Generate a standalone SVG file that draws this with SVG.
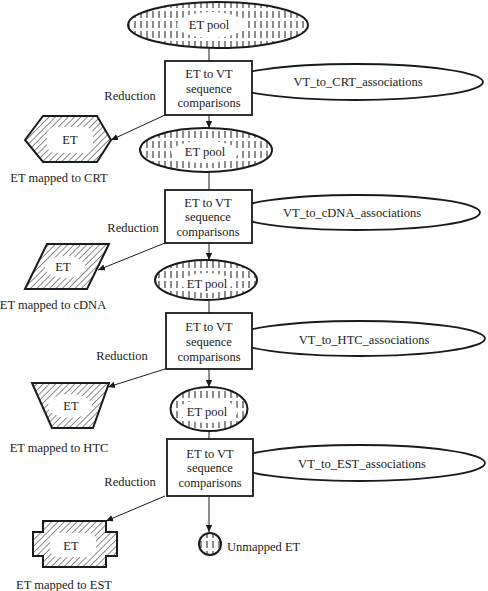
<svg xmlns="http://www.w3.org/2000/svg" width="488" height="591" viewBox="0 0 488 591">
<style>
text{font-family:"Times New Roman","Liberation Serif","DejaVu Serif","Noto Serif",serif;font-size:12.5px;fill:#1a1a1a}
.c{text-anchor:middle}
.box{fill:#fff;stroke:#1a1a1a;stroke-width:1.8}
.pool{fill:url(#vdash);stroke:#1a1a1a;stroke-width:2}
.assoc{fill:#fff;stroke:#1a1a1a;stroke-width:1.8}
.shape{fill:url(#diag);stroke:#1a1a1a;stroke-width:2}
.clear{fill:#fff;stroke:none}
.edge{fill:none;stroke:#1a1a1a;stroke-width:1}
</style>
<defs>
<pattern id="vdash" width="6" height="10" patternUnits="userSpaceOnUse">
<rect width="6" height="10" fill="#fff"/>
<line x1="3" y1="1" x2="3" y2="8" stroke="#1a1a1a" stroke-width="1"/>
</pattern>
<pattern id="diag" width="4.5" height="4.5" patternUnits="userSpaceOnUse" patternTransform="rotate(45)">
<rect width="4.5" height="4.5" fill="#fff"/>
<line x1="0" y1="0" x2="0" y2="4.5" stroke="#1a1a1a" stroke-width="1"/>
</pattern>
<marker id="arr" markerWidth="8" markerHeight="8" refX="7" refY="4" orient="auto" markerUnits="userSpaceOnUse">
<path d="M0,0.8 L7,4 L0,7.2 Z" fill="#1a1a1a"/>
</marker>
</defs>

<g id="connectors">
<line class="edge" x1="209" y1="48" x2="209" y2="61"/>
<line class="edge" x1="209" y1="115" x2="209" y2="128" marker-end="url(#arr)"/>
<line class="edge" x1="209" y1="172" x2="209" y2="190"/>
<line class="edge" x1="209" y1="243" x2="209" y2="260" marker-end="url(#arr)"/>
<line class="edge" x1="209" y1="300" x2="209" y2="313"/>
<line class="edge" x1="209" y1="369" x2="209" y2="387" marker-end="url(#arr)"/>
<line class="edge" x1="209" y1="431" x2="209" y2="439"/>
<line class="edge" x1="209" y1="496" x2="209" y2="532" marker-end="url(#arr)"/>
<line class="edge" x1="165" y1="115" x2="111" y2="140" marker-end="url(#arr)"/>
<line class="edge" x1="165" y1="243" x2="98" y2="270" marker-end="url(#arr)"/>
<line class="edge" x1="165" y1="369" x2="108" y2="387" marker-end="url(#arr)"/>
<line class="edge" x1="165" y1="496" x2="106" y2="521" marker-end="url(#arr)"/>
<text class="c" x="130" y="100" font-family="Liberation Serif">Reduction</text>
<text class="c" x="133" y="232">Reduction</text>
<text class="c" x="122" y="360">Reduction</text>
<text class="c" x="130" y="486">Reduction</text>
</g>

<g id="pool1">
<ellipse class="pool" cx="218" cy="25" rx="90" ry="23"/>
<ellipse class="clear" cx="211" cy="25" rx="34" ry="13"/>
<text class="c" x="209" y="29">ET pool</text>
</g>

<g id="assoc1">
<ellipse class="assoc" cx="355" cy="82" rx="128" ry="18"/>
<text class="c" x="358" y="86">VT_to_CRT_associations</text>
</g>
<g id="comp1">
<rect class="box" x="165" y="61" width="87" height="54"/>
<text class="c" x="209" y="78">ET to VT</text>
<text class="c" x="209" y="93">sequence</text>
<text class="c" x="209" y="107">comparisons</text>
</g>

<g id="crt">
<polygon class="shape" points="25,140 43,116 97,116 111,140 97,162 43,162"/>
<rect class="clear" x="47" y="127" width="46" height="26" rx="8"/>
<text class="c" x="70" y="144">ET</text>
<text class="c" x="59" y="182">ET mapped to CRT</text>
</g>

<g id="pool2">
<ellipse class="pool" cx="206" cy="150" rx="66" ry="22"/>
<ellipse class="clear" cx="205" cy="152" rx="34" ry="11"/>
<text class="c" x="205" y="156">ET pool</text>
</g>

<g id="assoc2">
<ellipse class="assoc" cx="357" cy="212.5" rx="123" ry="17.5"/>
<text class="c" x="352" y="217">VT_to_cDNA_associations</text>
</g>
<g id="comp2">
<rect class="box" x="165" y="190" width="87" height="53"/>
<text class="c" x="208" y="207">ET to VT</text>
<text class="c" x="208" y="221">sequence</text>
<text class="c" x="208" y="236">comparisons</text>
</g>

<g id="cdna">
<polygon class="shape" points="47,244 109,244 87,289 25,289"/>
<ellipse class="clear" cx="65" cy="267" rx="20" ry="11"/>
<text class="c" x="63" y="271">ET</text>
<text class="c" x="53" y="309">ET mapped to cDNA</text>
</g>

<g id="pool3">
<ellipse class="pool" cx="206" cy="280" rx="51" ry="20"/>
<ellipse class="clear" cx="207" cy="283" rx="26" ry="10"/>
<text class="c" x="207" y="288">ET pool</text>
</g>

<g id="assoc3">
<ellipse class="assoc" cx="359" cy="338.5" rx="126" ry="17.5"/>
<text class="c" x="364" y="344">VT_to_HTC_associations</text>
</g>
<g id="comp3">
<rect class="box" x="166" y="313" width="86" height="56"/>
<text class="c" x="209" y="331">ET to VT</text>
<text class="c" x="209" y="346">sequence</text>
<text class="c" x="209" y="361">comparisons</text>
</g>

<g id="htc">
<polygon class="shape" points="32,383 109,383 93,428 52,428"/>
<ellipse class="clear" cx="70" cy="406" rx="22" ry="12"/>
<text class="c" x="71" y="410">ET</text>
<text class="c" x="59" y="452">ET mapped to HTC</text>
</g>

<g id="pool4">
<ellipse class="pool" cx="209" cy="409" rx="38.5" ry="22"/>
<ellipse class="clear" cx="208" cy="411" rx="30" ry="12"/>
<text class="c" x="207" y="416">ET pool</text>
</g>

<g id="assoc4">
<ellipse class="assoc" cx="359" cy="463" rx="126" ry="18"/>
<text class="c" x="362" y="468">VT_to_EST_associations</text>
</g>
<g id="comp4">
<rect class="box" x="167" y="439" width="86" height="57"/>
<text class="c" x="210" y="458">ET to VT</text>
<text class="c" x="210" y="472">sequence</text>
<text class="c" x="210" y="487">comparisons</text>
</g>

<g id="est">
<polygon class="shape" points="43,521 106,521 106,532 117,532 117,556 106,556 106,567 43,567 43,556 33,556 33,532 43,532"/>
<rect class="clear" x="50" y="533" width="46" height="24" rx="8"/>
<text class="c" x="71" y="550">ET</text>
<text class="c" x="64" y="589">ET mapped to EST</text>
</g>

<g id="unmapped">
<circle class="pool" cx="210" cy="544" r="11"/>
<text x="227" y="551">Unmapped ET</text>
</g>
</svg>
